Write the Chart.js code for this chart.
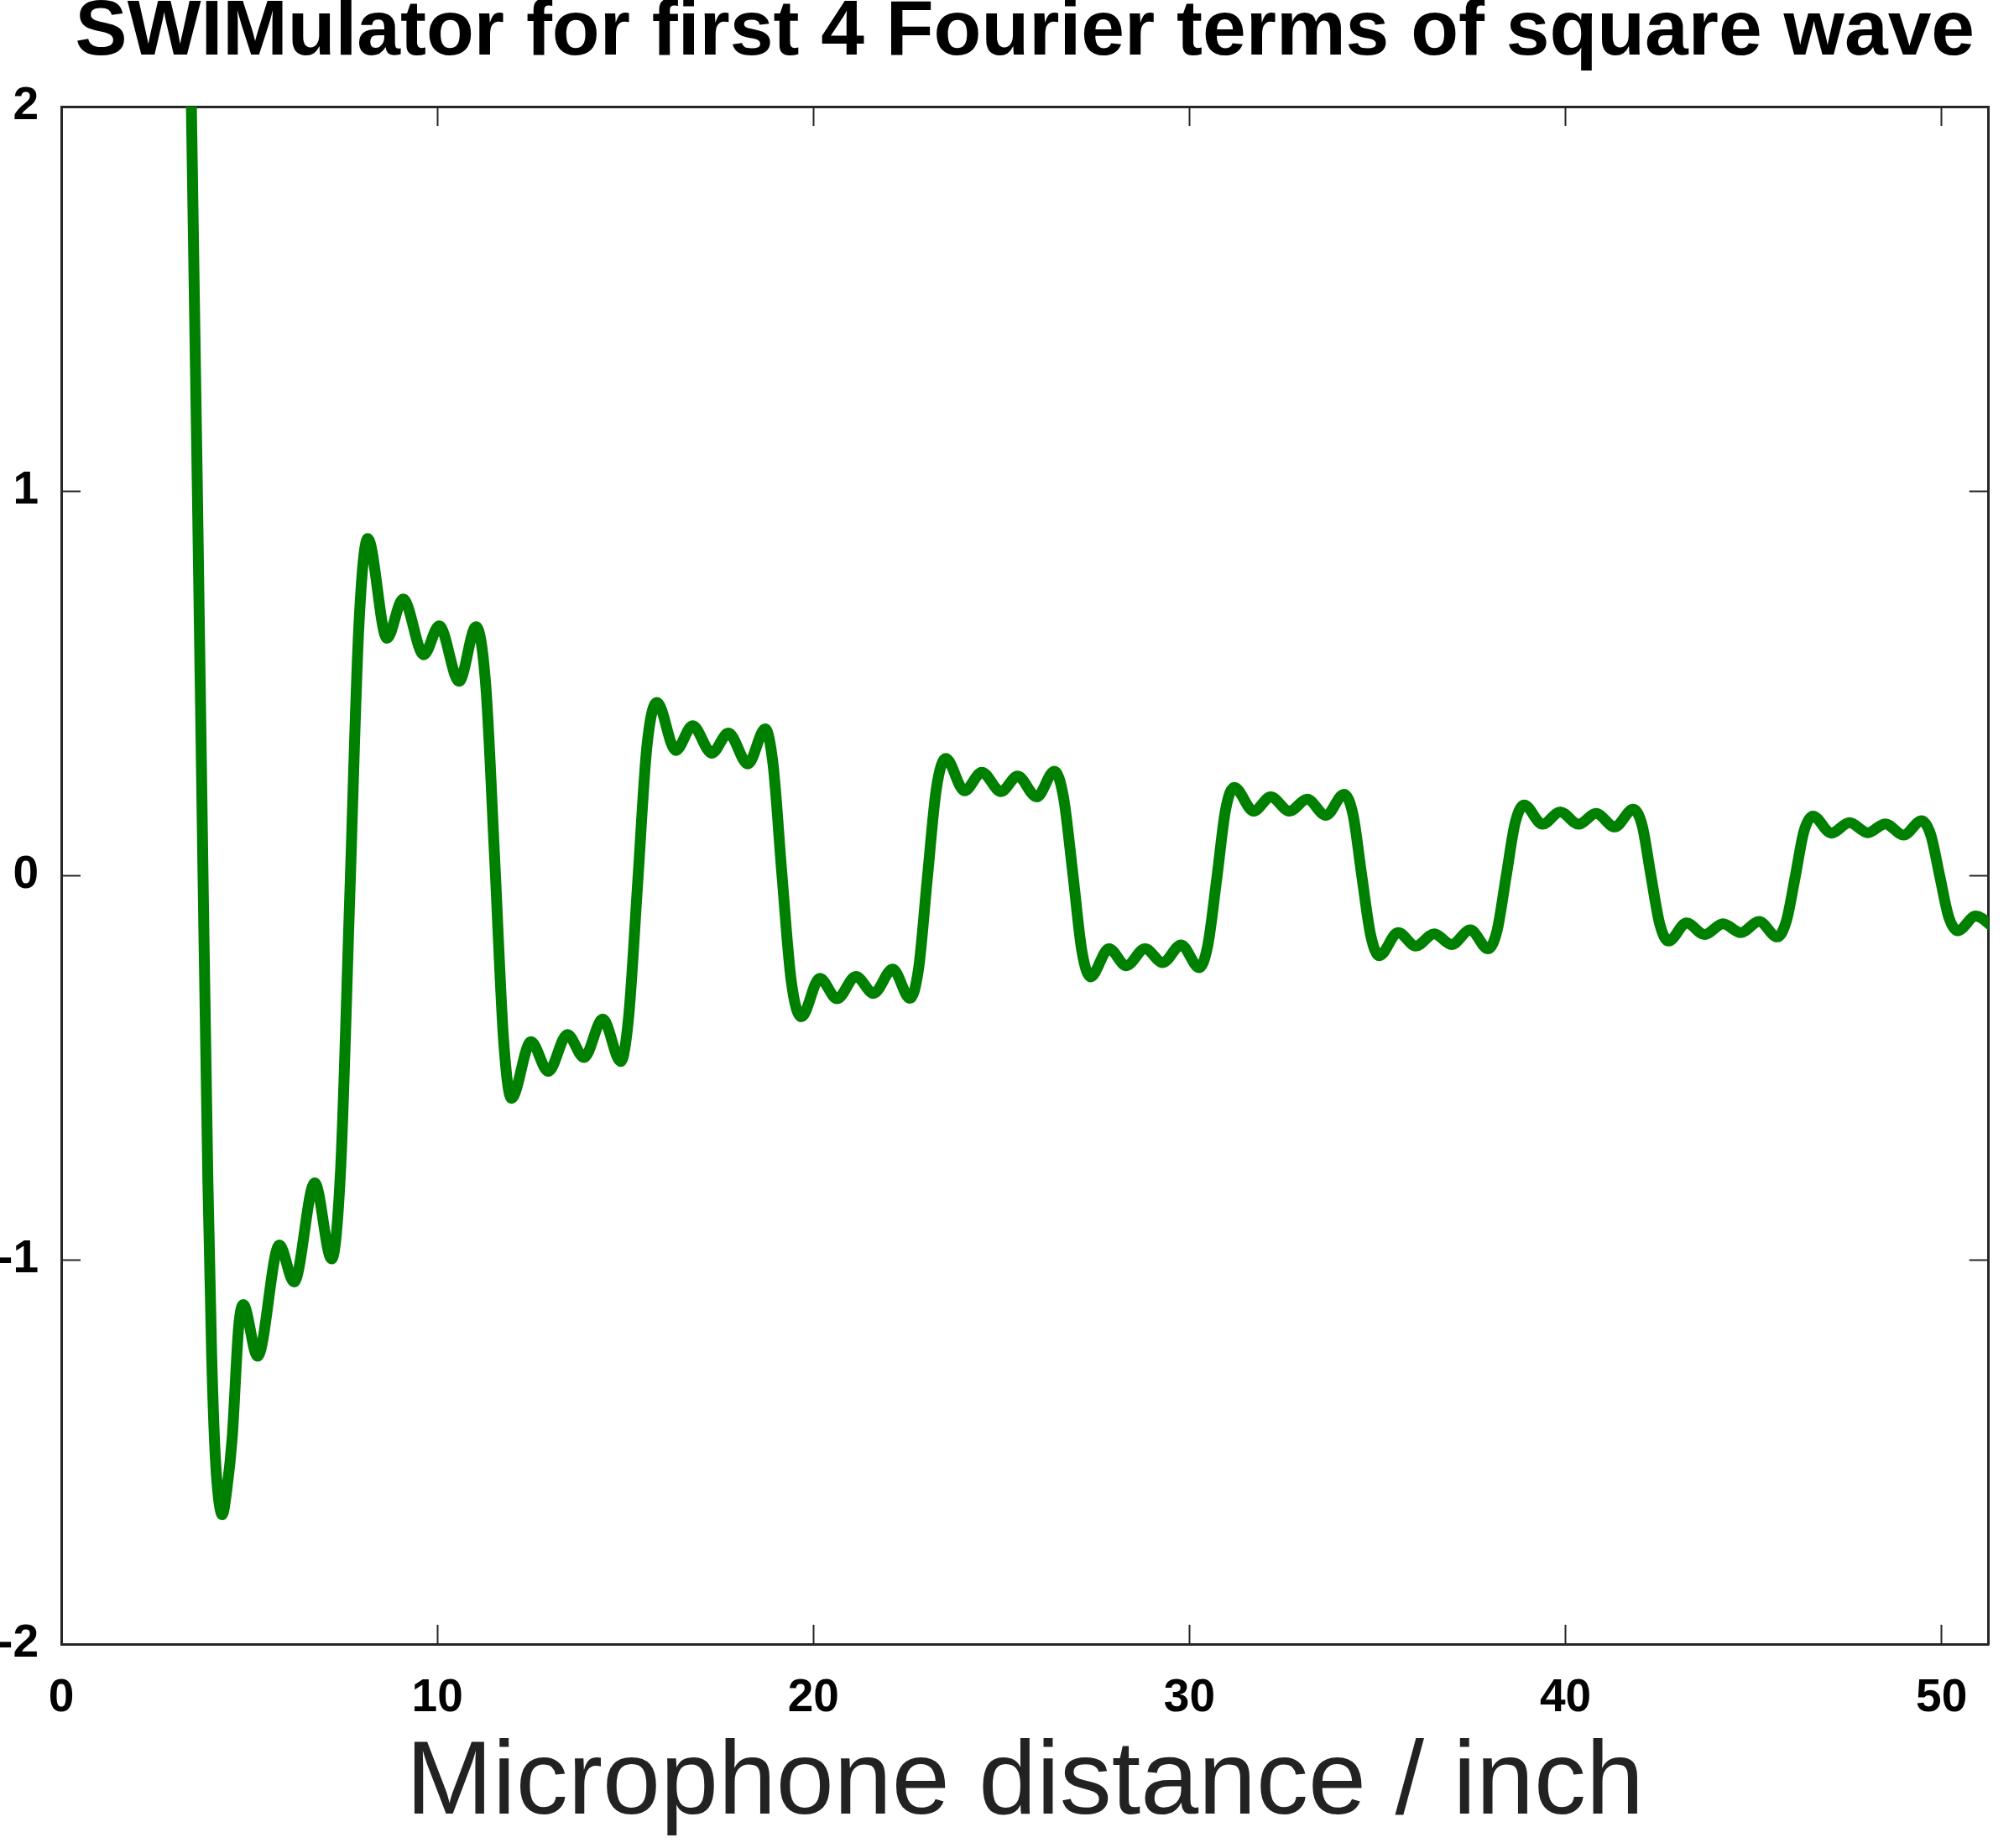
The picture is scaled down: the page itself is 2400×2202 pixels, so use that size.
<!DOCTYPE html>
<html>
<head>
<meta charset="utf-8">
<title>SWIMulator</title>
<script src="https://cdn.jsdelivr.net/npm/chart.js@4.4.1/dist/chart.umd.min.js"></script>
<style>
	html, body { margin: 0; padding: 0; background: #fff; }
	canvas { display: block; }
</style>
</head>
<body>
<canvas id="myChart" width="2400" height="2202"></canvas>
<script>
// values (inch, amplitude)
const distance = [
	3.30, 3.46, 3.62, 3.77, 3.90, 4.00, 4.08, 4.16, 4.28, 4.40,
	4.545, 4.72, 4.84, 5.22, 5.80, 6.19, 6.74, 7.19, 7.43, 7.67,
	7.91, 8.15, 8.66, 9.09, 9.64, 10.05, 10.58, 11.03, 11.29, 11.53,
	11.76, 11.97, 12.49, 12.95, 13.46, 13.90, 14.40, 14.88, 15.09, 15.33,
	15.57, 15.84, 16.34, 16.79, 17.30, 17.74, 18.26, 18.72, 18.93, 19.16,
	19.41, 19.68, 20.17, 20.63, 21.13, 21.60, 22.11, 22.57, 22.80, 23.03,
	23.27, 23.52, 24.02, 24.48, 24.99, 25.43, 25.94, 26.41, 26.65, 26.90,
	27.14, 27.37, 27.86, 28.32, 28.82, 29.29, 29.78, 30.26, 30.49, 30.73,
	30.96, 31.19, 31.71, 32.16, 32.66, 33.13, 33.63, 34.11, 34.35, 34.58,
	34.82, 35.05, 35.55, 36.02, 36.51, 36.97, 37.47, 37.94, 38.18, 38.42,
	38.66, 38.90, 39.39, 39.86, 40.35, 40.81, 41.31, 41.80, 42.04, 42.27,
	42.51, 42.74, 43.22, 43.70, 44.19, 44.66, 45.15, 45.63, 45.87, 46.11,
	46.34, 46.58, 47.07, 47.55, 48.04, 48.50, 48.99, 49.47, 49.71, 49.95,
	50.19, 50.43, 50.91, 51.38
]
const level = [
	2.90, 2.00, 1.00, 0.00, -0.80, -1.25, -1.48, -1.60, -1.663, -1.60,
	-1.464, -1.172, -1.117, -1.251, -0.962, -1.058, -0.800, -0.998, -0.762, -0.061,
	0.640, 0.876, 0.617, 0.719, 0.574, 0.649, 0.505, 0.647, 0.492, 0.034,
	-0.425, -0.58, -0.433, -0.510, -0.414, -0.474, -0.374, -0.484, -0.366, -0.017,
	0.332, 0.450, 0.325, 0.389, 0.318, 0.370, 0.290, 0.381, 0.287, 0.007,
	-0.274, -0.368, -0.268, -0.321, -0.263, -0.307, -0.244, -0.320, -0.241, -0.008,
	0.225, 0.304, 0.220, 0.268, 0.218, 0.258, 0.204, 0.271, 0.204, 0.004,
	-0.197, -0.264, -0.191, -0.235, -0.191, -0.227, -0.181, -0.240, -0.181, -0.006,
	0.170, 0.229, 0.167, 0.204, 0.167, 0.198, 0.156, 0.211, 0.158, 0.001,
	-0.156, -0.209, -0.149, -0.184, -0.152, -0.180, -0.142, -0.191, -0.144, -0.004,
	0.136, 0.183, 0.133, 0.165, 0.133, 0.161, 0.126, 0.172, 0.129, 0.000,
	-0.128, -0.171, -0.124, -0.154, -0.126, -0.149, -0.120, -0.160, -0.120, -0.003,
	0.114, 0.154, 0.110, 0.137, 0.111, 0.134, 0.105, 0.142, 0.106, -0.001,
	-0.108, -0.144, -0.106, -0.135
]
const xTicks = [0, 10, 20, 30, 40, 50]
const yTicks = [-2, -1, 0, 1, 2]
const titleText = 'SWIMulator for first 4 Fourier terms of square wave'
const xTitle = 'Microphone distance / inch'

const font = 'Liberation Sans, Arial, Helvetica, sans-serif'
const frameColor = '#262626'

function useTicks(values) {
	return scale => { scale.ticks = values.map(v => ({ value: v })) }
}

function frameAxis(position, min, max, ticks, size, labels) {
	const horizontal = position === 'top' || position === 'bottom'
	return {
		type: 'linear',
		position: position,
		min: min,
		max: max,
		afterBuildTicks: useTicks(ticks),
		afterFit: scale => {
			if (horizontal) scale.height = size
			else scale.width = size
		},
		grid: {
			drawOnChartArea: false,
			drawTicks: true,
			tickLength: -23,
			tickColor: frameColor,
			tickWidth: 2,
		},
		border: { display: true, color: frameColor, width: 3 },
		ticks: {
			display: labels,
			autoSkip: false,
			maxRotation: 0,
			color: '#000',
			padding: horizontal ? 55 : 50,
			font: { family: font, size: 55, weight: 'bold' },
		},
	}
}

function getChart() {
	const context = document.getElementById('myChart')
	const data = {
		datasets: [
			{
				label: 'signal',
				data: distance.map((d, i) => ({ x: d, y: level[i] })),
				borderColor: '#008000',
				backgroundColor: '#008000',
				borderWidth: 13,
				pointRadius: 0,
				fill: false,
				cubicInterpolationMode: 'monotone',
				borderJoinStyle: 'round',
				xAxisID: 'x',
				yAxisID: 'y',
			}
		]
	}

	const xAxis = frameAxis('bottom', 0, 51.25, xTicks, 243, true)
	xAxis.title = {
		display: true,
		text: xTitle,
		color: '#222',
		font: { family: font, size: 124, weight: 'normal', lineHeight: 1 },
		padding: { top: 0, bottom: 13 },
	}

	const config = {
		type: 'line',
		data: data,
		options: {
			responsive: false,
			devicePixelRatio: 1,
			animation: false,
			layout: { padding: 0 },
			plugins: {
				legend: { display: false },
				tooltip: { enabled: false },
				title: {
					display: true,
					text: titleText,
					color: '#000',
					fullSize: false,
					font: { family: font, size: 93, weight: 'bold', lineHeight: 0.85 },
					padding: { top: 0, bottom: 48 },
				},
			},
			scales: {
				x: xAxis,
				x2: frameAxis('top', 0, 51.25, xTicks, 0, false),
				y: frameAxis('left', -2, 2, yTicks, 73, true),
				y2: frameAxis('right', -2, 2, yTicks, 4, false),
			},
		},
	}
	const myChart = new Chart(context, config)
}

getChart()
</script>
</body>
</html>
